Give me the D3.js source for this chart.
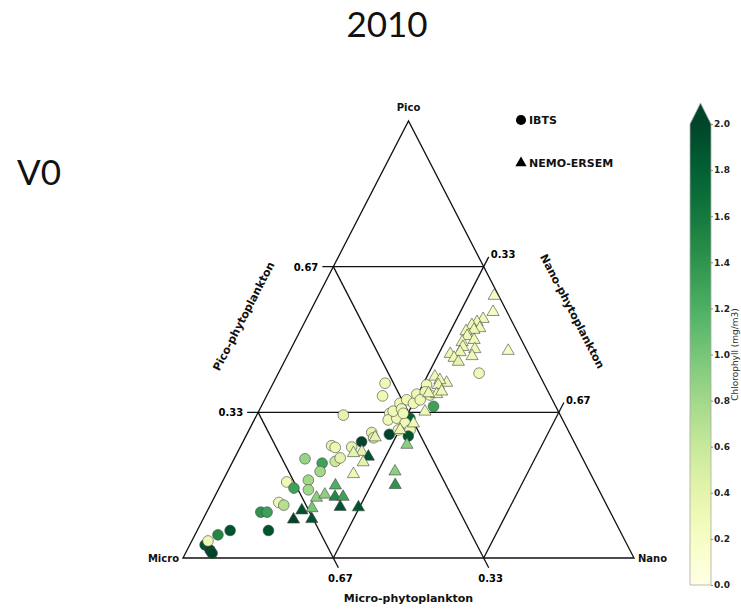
<!DOCTYPE html>
<html>
<head>
<meta charset="utf-8">
<script src="https://cdn.jsdelivr.net/npm/d3@7"></script>
<style>
  html, body { margin: 0; padding: 0; background: #fff; }
  svg { display: block; }
</style>
</head>
<body>
<svg id="chart" width="741" height="610"></svg>
<script>
// Phytoplankton size-class fractions (pico, nano; micro = 1 - pico - nano)
// with surface chlorophyll (mg/m3) for each sample.
const ibtsPico = [0.030, 0.018, 0.011, 0.039, 0.053, 0.063, 0.063, 0.105, 0.105, 0.127,
                  0.121, 0.174, 0.160, 0.178, 0.156, 0.227, 0.217, 0.198, 0.221, 0.229,
                  0.257, 0.253, 0.254, 0.266, 0.287, 0.275, 0.327, 0.400, 0.371, 0.331,
                  0.316, 0.283, 0.320, 0.336, 0.354, 0.362, 0.354, 0.375, 0.396, 0.380,
                  0.347, 0.320, 0.309, 0.293, 0.293, 0.279, 0.423, 0.341, 0.331, 0.362,
                  0.373];
const ibtsNano = [0.034, 0.051, 0.059, 0.036, 0.051, 0.073, 0.158, 0.120, 0.134, 0.149,
                  0.163, 0.143, 0.166, 0.189, 0.200, 0.157, 0.200, 0.205, 0.227, 0.234,
                  0.201, 0.211, 0.247, 0.263, 0.275, 0.285, 0.192, 0.248, 0.257, 0.293,
                  0.297, 0.316, 0.314, 0.298, 0.304, 0.315, 0.334, 0.331, 0.342, 0.347,
                  0.382, 0.343, 0.338, 0.331, 0.357, 0.360, 0.445, 0.314, 0.323, 0.345,
                  0.361];
const ibtsChl  = [1.9, 2.0, 2.0, 0.3, 1.5, 1.9, 1.9, 1.4, 1.3, 0.3,
                  0.7, 0.3, 1.3, 0.8, 0.8, 0.85, 1.3, 0.8, 0.6, 0.4,
                  0.4, 0.3, 0.4, 2.0, 0.4, 0.5, 0.4, 0.3, 0.3, 0.3,
                  0.3, 2.0, 0.3, 0.3, 0.3, 0.3, 0.3, 0.3, 0.3, 0.3,
                  1.3, 1.8, 0.3, 0.3, 0.3, 1.9, 0.3, 0.3, 0.3, 0.3,
                  0.3];

const nemoPico = [0.600, 0.563, 0.547, 0.540, 0.533, 0.526, 0.522, 0.519, 0.508, 0.499,
                  0.494, 0.483, 0.478, 0.471, 0.462, 0.467, 0.458, 0.449, 0.474, 0.415,
                  0.401, 0.407, 0.396, 0.375, 0.381, 0.377, 0.335, 0.308, 0.293, 0.259,
                  0.276, 0.243, 0.240, 0.232, 0.219, 0.192, 0.166, 0.138, 0.145, 0.140,
                  0.140, 0.117, 0.116, 0.114, 0.109, 0.088, 0.089, 0.198, 0.167];
const nemoNano = [0.390, 0.406, 0.392, 0.382, 0.374, 0.395, 0.384, 0.368, 0.376, 0.396,
                  0.372, 0.379, 0.408, 0.379, 0.410, 0.359, 0.372, 0.386, 0.484, 0.351,
                  0.384, 0.366, 0.368, 0.375, 0.383, 0.356, 0.369, 0.357, 0.335, 0.367,
                  0.288, 0.275, 0.258, 0.295, 0.290, 0.282, 0.255, 0.227, 0.242, 0.267,
                  0.285, 0.290, 0.331, 0.229, 0.209, 0.201, 0.241, 0.371, 0.387];
const nemoChl  = [0.2, 0.2, 0.3, 0.3, 0.3, 0.3, 0.3, 0.3, 0.3, 0.3,
                  0.3, 0.3, 0.3, 0.3, 0.3, 0.3, 0.3, 0.4, 0.2, 0.3,
                  0.3, 0.3, 0.3, 0.3, 0.3, 0.3, 0.3, 0.3, 0.3, 0.9,
                  0.4, 0.4, 0.4, 1.9, 0.4, 0.3, 1.2, 0.9, 0.9, 1.5,
                  1.3, 1.9, 1.9, 1.0, 1.9, 2.0, 1.9, 0.9, 1.4];

const gridFractions = [1 / 3, 2 / 3];
const colorTicks = [0, 0.2, 0.4, 0.6, 0.8, 1.0, 1.2, 1.4, 1.6, 1.8, 2.0];

const svg = d3.select("#chart");
const fmt = d3.format(".2f");
const labelFont = "DejaVu Sans, sans-serif";

// Ternary frame: horizontal position from nano + pico/2, vertical from pico.
const xS = d3.scaleLinear().domain([0, 1]).range([183, 634]);
const yS = d3.scaleLinear().domain([0, 1]).range([558, 121]);
const px = (p, n) => xS(n + p / 2);
const py = (p) => yS(p);

const color = d3.scaleSequential(d3.interpolateYlGn).domain([0, 2]).clamp(true);

// Titles
svg.append("text").attr("x", 387).attr("y", 37).attr("text-anchor", "middle")
  .style("font-family", "Lato, sans-serif").style("font-size", "35px").attr("fill", "#111")
  .text("2010");
svg.append("text").attr("x", 17).attr("y", 185)
  .style("font-family", "Lato, sans-serif").style("font-size", "35px").attr("fill", "#111")
  .text("V0");

const frame = svg.append("g").attr("stroke", "#111").attr("stroke-width", 1.3).attr("fill", "none");

// Outer triangle
frame.append("path").attr("d", d3.line()([
  [px(0, 0), py(0)], [px(1, 0), py(1)], [px(0, 1), py(0)]
]) + "Z");

// Grid lines, one family per component, with their edge ticks
const tickLen = 11;
const edgeDir = Math.hypot(xS(0.5) - xS(0), yS(0) - yS(1));
const ux = (xS(0.5) - xS(0)) / edgeDir, uy = (yS(1) - yS(0)) / edgeDir; // up-right unit vector

gridFractions.forEach(k => {
  // constant pico
  const a = [px(k, 0), py(k)], b = [px(k, 1 - k), py(k)];
  frame.append("line").attr("x1", a[0] - tickLen).attr("y1", a[1]).attr("x2", b[0]).attr("y2", b[1]);
  svg.append("text").attr("x", a[0] - tickLen - 4).attr("y", a[1] + 4).attr("text-anchor", "end")
    .style("font-family", labelFont).style("font-weight", "bold").style("font-size", "10px")
    .text(fmt(k));

  // constant nano (parallel to left edge), tick past the right edge
  const c = [px(0, k), py(0)], d = [px(1 - k, k), py(1 - k)];
  frame.append("line").attr("x1", c[0]).attr("y1", c[1])
    .attr("x2", d[0] + ux * tickLen).attr("y2", d[1] + uy * tickLen);
  svg.append("text").attr("x", d[0] + ux * tickLen + 2).attr("y", d[1] + uy * tickLen + 1)
    .style("font-family", labelFont).style("font-weight", "bold").style("font-size", "10px")
    .text(fmt(k));

  // constant micro (parallel to right edge), tick below the base
  const m = k;
  const e = [px(1 - m, 0), py(1 - m)], f = [px(0, 1 - m), py(0)];
  frame.append("line").attr("x1", e[0]).attr("y1", e[1])
    .attr("x2", f[0] + ux * tickLen).attr("y2", f[1] - uy * tickLen);
  svg.append("text").attr("x", f[0] + ux * tickLen + 2).attr("y", f[1] - uy * tickLen + 14)
    .attr("text-anchor", "middle")
    .style("font-family", labelFont).style("font-weight", "bold").style("font-size", "10px")
    .text(fmt(m));
});

// Vertex labels
const bold = sel => sel.style("font-family", labelFont).style("font-weight", "bold").attr("fill", "#111");
bold(svg.append("text").attr("x", px(1, 0)).attr("y", py(1) - 10).attr("text-anchor", "middle")
  .style("font-size", "10px").text("Pico"));
bold(svg.append("text").attr("x", px(0, 0) - 4).attr("y", py(0) + 4).attr("text-anchor", "end")
  .style("font-size", "10px").text("Micro"));
bold(svg.append("text").attr("x", px(0, 1) + 4).attr("y", py(0) + 4)
  .style("font-size", "10px").text("Nano"));

// Axis titles along the three edges
const edgeAngle = Math.atan2(yS(0) - yS(1), xS(0.5) - xS(0)) * 180 / Math.PI;
bold(svg.append("text").attr("transform", `translate(247,318) rotate(${-edgeAngle})`)
  .attr("text-anchor", "middle").style("font-size", "11px").text("Pico-phytoplankton"));
bold(svg.append("text").attr("transform", `translate(569,313) rotate(${edgeAngle})`)
  .attr("text-anchor", "middle").style("font-size", "11px").text("Nano-phytoplankton"));
bold(svg.append("text").attr("x", xS(0.5)).attr("y", 602).attr("text-anchor", "middle")
  .style("font-size", "11px").text("Micro-phytoplankton"));

// Samples
const ibts = ibtsPico.map((p, i) => ({ p, n: ibtsNano[i], chl: ibtsChl[i] }));
const nemo = nemoPico.map((p, i) => ({ p, n: nemoNano[i], chl: nemoChl[i] }));

const circleSym = d3.symbol(d3.symbolCircle, 90);
const triSym = d3.symbol(d3.symbolTriangle, 64);

svg.append("g").selectAll("path").data(ibts).join("path")
  .attr("d", circleSym)
  .attr("transform", d => `translate(${px(d.p, d.n)},${py(d.p)})`)
  .attr("fill", d => color(d.chl)).attr("stroke", "#444").attr("stroke-width", 0.6);

svg.append("g").selectAll("path").data(nemo).join("path")
  .attr("d", triSym)
  .attr("transform", d => `translate(${px(d.p, d.n)},${py(d.p)})`)
  .attr("fill", d => color(d.chl)).attr("stroke", "#444").attr("stroke-width", 0.6);

// Legend
const legend = svg.append("g");
legend.append("path").attr("d", d3.symbol(d3.symbolCircle, 80)).attr("transform", "translate(521,120)").attr("fill", "#000");
bold(legend.append("text").attr("x", 529).attr("y", 124).style("font-size", "11px").text("IBTS"));
legend.append("path").attr("d", d3.symbol(d3.symbolTriangle, 55)).attr("transform", "translate(521,163)").attr("fill", "#000");
bold(legend.append("text").attr("x", 529).attr("y", 167).style("font-size", "11px").text("NEMO-ERSEM"));

// Colour bar with an extension arrow above the maximum
const cbY = d3.scaleLinear().domain([0, 2]).range([585, 124]);
const cbX0 = 690, cbX1 = 711;
const grad = svg.append("defs").append("linearGradient").attr("id", "chlGrad")
  .attr("x1", 0).attr("y1", 1).attr("x2", 0).attr("y2", 0);
d3.range(0, 1.0001, 0.05).forEach(t => {
  grad.append("stop").attr("offset", t).attr("stop-color", color(t * 2));
});
svg.append("rect").attr("x", cbX0).attr("y", cbY(2)).attr("width", cbX1 - cbX0)
  .attr("height", cbY(0) - cbY(2)).attr("fill", "url(#chlGrad)");
svg.append("path").attr("d", d3.line()([[cbX0, cbY(2)], [(cbX0 + cbX1) / 2, cbY(2) - 21], [cbX1, cbY(2)]]) + "Z")
  .attr("fill", color(2));
svg.append("path").attr("d", d3.line()([[cbX0, cbY(0)], [cbX0, cbY(2)], [(cbX0 + cbX1) / 2, cbY(2) - 21],
  [cbX1, cbY(2)], [cbX1, cbY(0)]]) + "Z")
  .attr("fill", "none").attr("stroke", "#aaa").attr("stroke-width", 0.8);

const cbAxis = d3.axisRight(cbY).tickValues(colorTicks).tickFormat(d3.format(".1f")).tickSize(2).tickPadding(1);
const cbG = svg.append("g").attr("transform", `translate(${cbX1},0)`).call(cbAxis);
cbG.select(".domain").remove();
cbG.selectAll("line").attr("stroke", "#888");
cbG.selectAll("text").style("font-family", labelFont).style("font-weight", "bold")
  .style("font-size", "9px").attr("fill", "#222");

// Colour bar title, tucked against the right edge
svg.append("text").attr("transform", `translate(738,${cbY(1)}) rotate(-90)`)
  .attr("text-anchor", "middle").style("font-family", labelFont).style("font-size", "9px")
  .attr("fill", "#333").text("Chlorophyll (mg/m3)");
</script>
</body>
</html>
